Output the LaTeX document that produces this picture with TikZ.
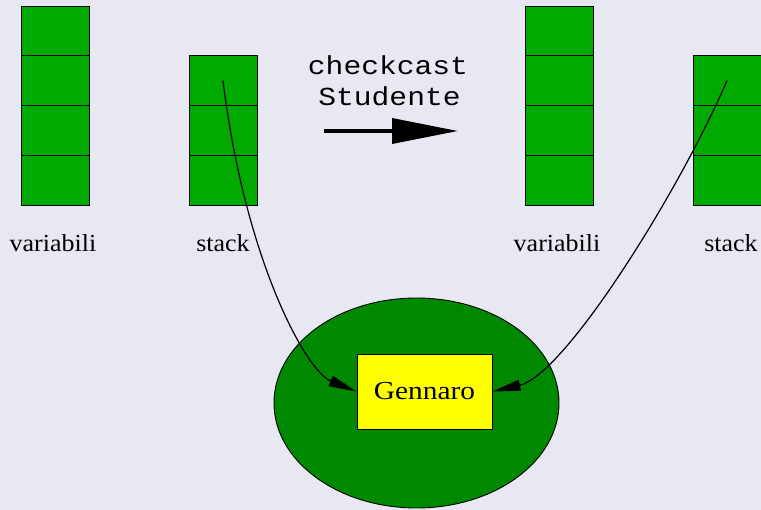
\documentclass[tikz,border=0pt]{standalone}
\usepackage{fontspec}
\usetikzlibrary{arrows.meta,shapes.geometric}
\newfontfamily\labelserif[FakeStretch=1.06]{Liberation Serif}
\newfontfamily\objserif[FakeStretch=1.13]{Liberation Serif}
\newfontfamily\opmono[FakeStretch=1.14]{Liberation Mono}
\definecolor{bgpaper}{RGB}{232,232,243}
\definecolor{cellgreen}{RGB}{0,170,0}
\definecolor{heapgreen}{RGB}{0,136,0}
\definecolor{objyellow}{RGB}{255,255,0}

\begin{document}
\begin{tikzpicture}[x=1pt,y=-1pt,
  cell/.style={draw=black,fill=cellgreen,line width=0.9pt,
    minimum width=68pt,minimum height=49.75pt,inner sep=0pt,outer sep=0pt},
  lbl/.style={anchor=base,inner sep=0pt,
    font=\labelserif\fontsize{24.5}{28}\selectfont},
  opcode/.style={anchor=base,inner sep=0pt,
    font=\opmono\fontsize{26}{30}\selectfont},
  heap/.style={ellipse,draw=black,fill=heapgreen,line width=0.9pt,
    minimum width=285pt,minimum height=210pt,inner sep=0pt},
  obj/.style={draw=black,fill=objyellow,line width=0.9pt,
    minimum width=135pt,minimum height=75pt,inner sep=0pt,
    font=\objserif\fontsize{26}{30}\selectfont},
  link/.style={line width=1.2pt,-{Triangle[length=28pt,width=11pt]}},
  castarrow/.style={line width=3.5pt,-{Triangle[length=66pt,width=25pt]}}]

  % background
  \fill[bgpaper] (0,0) rectangle (761,510);
  \useasboundingbox (0,0) rectangle (761,510);

  % local variables and operand stack, before the cast
  \foreach \i in {0,...,3}
    \node[cell] (lv\i) at (55,{30.875+49.75*\i}) {};
  \foreach \i in {0,...,2}
    \node[cell] (ls\i) at (223,{80.625+49.75*\i}) {};
  \node[lbl] (lvlab) at (53,252) {variabili};
  \node[lbl] (lslab) at (223,252) {stack};

  % local variables and operand stack, after the cast
  \foreach \i in {0,...,3}
    \node[cell] (rv\i) at (559,{30.875+49.75*\i}) {};
  \foreach \i in {0,...,2}
    \node[cell] (rs\i) at (727,{80.625+49.75*\i}) {};
  \node[lbl] (rvlab) at (557,252) {variabili};
  \node[lbl] (rslab) at (731,252) {stack};

  % the instruction
  \node[opcode] (op1) at (388,75) {checkcast};
  \node[opcode] (op2) at (389.5,105.5) {Studente};
  \coordinate (castfrom) at (324,131);
  \coordinate (castto) at (458,131);
  \draw[castarrow] (castfrom) -- (castto);

  % heap with the referenced object
  \node[heap] (heapnode) at (416.5,403) {};
  \node[obj] (gen) at (424.5,391.5) {Gennaro};

  % references from the stack tops
  \draw[link] (ls0.center) .. controls (245,260) and (306,371) .. (gen.west);
  \draw[link] (rs0.center) .. controls (680,190) and (565,375) .. (gen.east);
\end{tikzpicture}
\end{document}
